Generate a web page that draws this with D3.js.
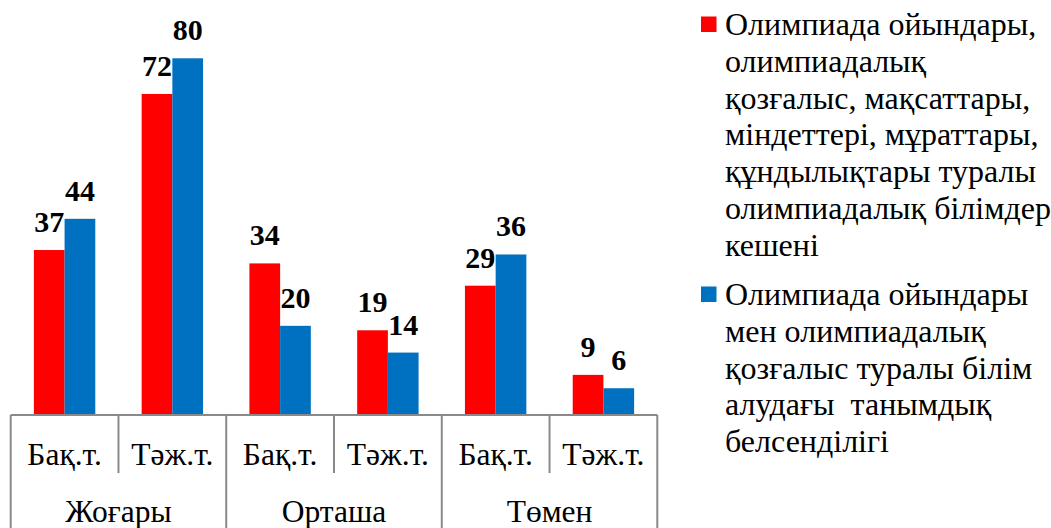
<!DOCTYPE html>
<html>
<head>
<meta charset="utf-8">
<script src="https://cdn.jsdelivr.net/npm/d3@7"></script>
</head>
<body style="margin:0">
<script>
// chart data
var groups = ["Жоғары", "Орташа", "Төмен"];
var subLabels = ["Бақ.т.", "Тәж.т."];
var seriesRed = [37, 72, 34, 19, 29, 9];
var seriesBlue = [44, 80, 20, 14, 36, 6];
var legendRed = ["Олимпиада ойындары,", "олимпиадалық", "қозғалыс, мақсаттары,", "міндеттері, мұраттары,", "құндылықтары туралы", "олимпиадалық білімдер", "кешені"];
var legendBlue = ["Олимпиада ойындары", "мен олимпиадалық", "қозғалыс туралы білім", "алудағы  танымдық", "белсенділігі"];

var width = 1051, height = 528;
var left = 10.7, right = 657.3, axisY = 415;
var serifFont = "'Liberation Serif'";

var cats = [];
groups.forEach(function(g) {
    subLabels.forEach(function(s) { cats.push(g + "|" + s); });
});

var svg = d3.select("body")
    .append("svg")
    .attr("width", width)
    .attr("height", height)
    .style("display", "block");

// scales
var x = d3.scaleBand()
    .domain(cats)
    .range([left, right]);

var xg = d3.scaleBand()
    .domain(groups)
    .range([left, right]);

var y = d3.scaleLinear()
    .domain([0, 80])
    .range([axisY, 58.3]);

var barW = 30.7;

var rows = cats.map(function(c, i) {
    return { cat: c, red: seriesRed[i], blue: seriesBlue[i] };
});

// bars
var bars = svg.append("g").attr("class", "bars");

bars.selectAll(".bar-red")
    .data(rows)
    .enter()
    .append("rect")
    .attr("x", d => x(d.cat) + x.bandwidth() / 2 - barW)
    .attr("y", d => y(d.red))
    .attr("width", barW)
    .attr("height", d => axisY - y(d.red))
    .style("fill", "#ff0000");

bars.selectAll(".bar-blue")
    .data(rows)
    .enter()
    .append("rect")
    .attr("x", d => x(d.cat) + x.bandwidth() / 2)
    .attr("y", d => y(d.blue))
    .attr("width", barW)
    .attr("height", d => axisY - y(d.blue))
    .style("fill", "#0070c0");

// value labels
var labels = svg.append("g");

function valueText(sel) {
    sel.style("font-family", serifFont)
        .style("font-weight", "bold")
        .style("font-size", "30px")
        .attr("text-anchor", "middle")
        .style("fill", "#000");
}

labels.selectAll(".lab-red")
    .data(rows)
    .enter()
    .append("text")
    .call(valueText)
    .attr("x", d => x(d.cat) + x.bandwidth() / 2 - barW / 2)
    .attr("y", d => y(d.red) - 18)
    .text(d => d.red);

labels.selectAll(".lab-blue")
    .data(rows)
    .enter()
    .append("text")
    .call(valueText)
    .attr("x", d => x(d.cat) + x.bandwidth() / 2 + barW / 2)
    .attr("y", d => y(d.blue) - 18)
    .text(d => d.blue);

// category axis (two levels)
var axis = svg.append("g")
    .attr("stroke", "#898989")
    .attr("stroke-width", 2);

axis.append("line")
    .attr("x1", left).attr("x2", right)
    .attr("y1", axisY).attr("y2", axisY);

cats.forEach(function(c, i) {
    if (i % 2 == 1) {
        axis.append("line")
            .attr("x1", x(c)).attr("x2", x(c))
            .attr("y1", axisY).attr("y2", 473);
    }
});

groups.concat([null]).forEach(function(g) {
    var gx = g ? xg(g) : right;
    axis.append("line")
        .attr("x1", gx).attr("x2", gx)
        .attr("y1", axisY).attr("y2", height);
});

function plainText(sel, size) {
    sel.style("font-family", serifFont)
        .style("font-size", size + "px")
        .style("fill", "#000");
}

var axisText = svg.append("g");

axisText.selectAll(".sub")
    .data(cats)
    .enter()
    .append("text")
    .call(plainText, 31.5)
    .attr("text-anchor", "middle")
    .attr("x", d => x(d) + x.bandwidth() / 2)
    .attr("y", 465)
    .text(d => d.split("|")[1]);

axisText.selectAll(".grp")
    .data(groups)
    .enter()
    .append("text")
    .call(plainText, 31.5)
    .attr("text-anchor", "middle")
    .attr("x", d => xg(d) + xg.bandwidth() / 2)
    .attr("y", 522)
    .text(d => d);

// legend
var legend = svg.append("g");

function legendItem(lines, color, top) {
    legend.append("rect")
        .attr("x", 701)
        .attr("y", top - 18.5)
        .attr("width", 15.5)
        .attr("height", 15.5)
        .style("fill", color);
    legend.selectAll(null)
        .data(lines)
        .enter()
        .append("text")
        .call(plainText, 32)
        .attr("x", 725)
        .attr("y", (d, i) => top + i * 36.8)
        .style("white-space", "pre")
        .text(d => d);
}

legendItem(legendRed, "#ff0000", 35);
legendItem(legendBlue, "#0070c0", 305);
</script>
</body>
</html>
